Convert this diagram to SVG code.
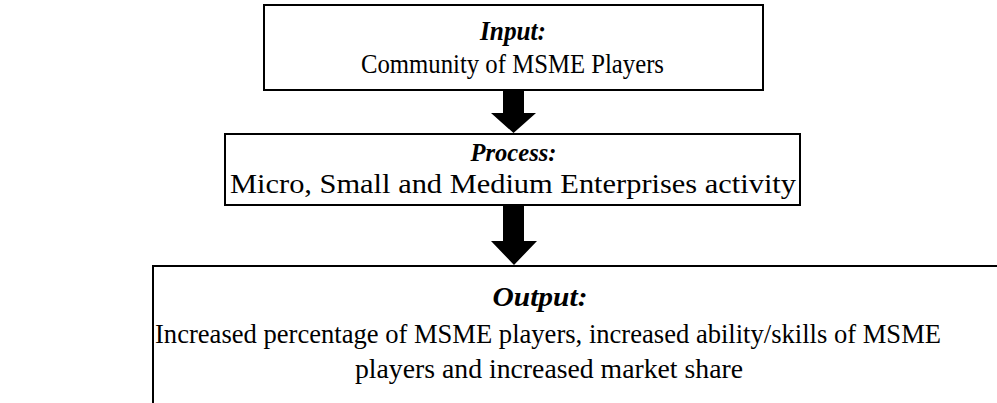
<svg xmlns="http://www.w3.org/2000/svg" width="997" height="403" viewBox="0 0 997 403">
<style>
.box{fill:#fff;stroke:#000;stroke-width:2}
.arr{fill:#000;stroke:none}
</style>
<rect width="997" height="403" fill="#fff"/>
<g id="input">
<rect class="box" x="264" y="5" width="499" height="85"/>
<text x="513" y="40" font-family="Liberation Serif" font-size="28" text-anchor="middle" font-weight="bold" font-style="italic" textLength="66" lengthAdjust="spacingAndGlyphs">Input:</text>
<text x="512.5" y="73" font-family="Liberation Serif" font-size="27" text-anchor="middle" textLength="303" lengthAdjust="spacingAndGlyphs">Community of MSME Players</text>
</g>
<g id="process">
<rect class="box" x="225" y="134" width="575" height="71"/>
<text x="513.5" y="161" font-family="Liberation Serif" font-size="26" text-anchor="middle" font-weight="bold" font-style="italic" textLength="86" lengthAdjust="spacingAndGlyphs">Process:</text>
<text x="513" y="193" font-family="Liberation Serif" font-size="27" text-anchor="middle" textLength="566" lengthAdjust="spacingAndGlyphs">Micro, Small and Medium Enterprises activity</text>
</g>
<g id="output">
<path class="box" d="M998,266 H153 V404"/>
<text x="540" y="306" font-family="Liberation Serif" font-size="28" text-anchor="middle" font-weight="bold" font-style="italic" textLength="95" lengthAdjust="spacingAndGlyphs">Output:</text>
<text x="548" y="343" font-family="Liberation Serif" font-size="28" text-anchor="middle" textLength="786" lengthAdjust="spacingAndGlyphs">Increased percentage of MSME players, increased ability/skills of MSME</text>
<text x="549" y="378" font-family="Liberation Serif" font-size="28" text-anchor="middle" textLength="388" lengthAdjust="spacingAndGlyphs">players and increased market share</text>
</g>
<g id="connectors">
<path class="arr" d="M503,90 H524 V113 H536 L513.5,133 L491,113 H503 Z"/>
<path class="arr" d="M503,205 H524 V241 H537 L514,265 L491,241 H503 Z"/>
</g>
</svg>
